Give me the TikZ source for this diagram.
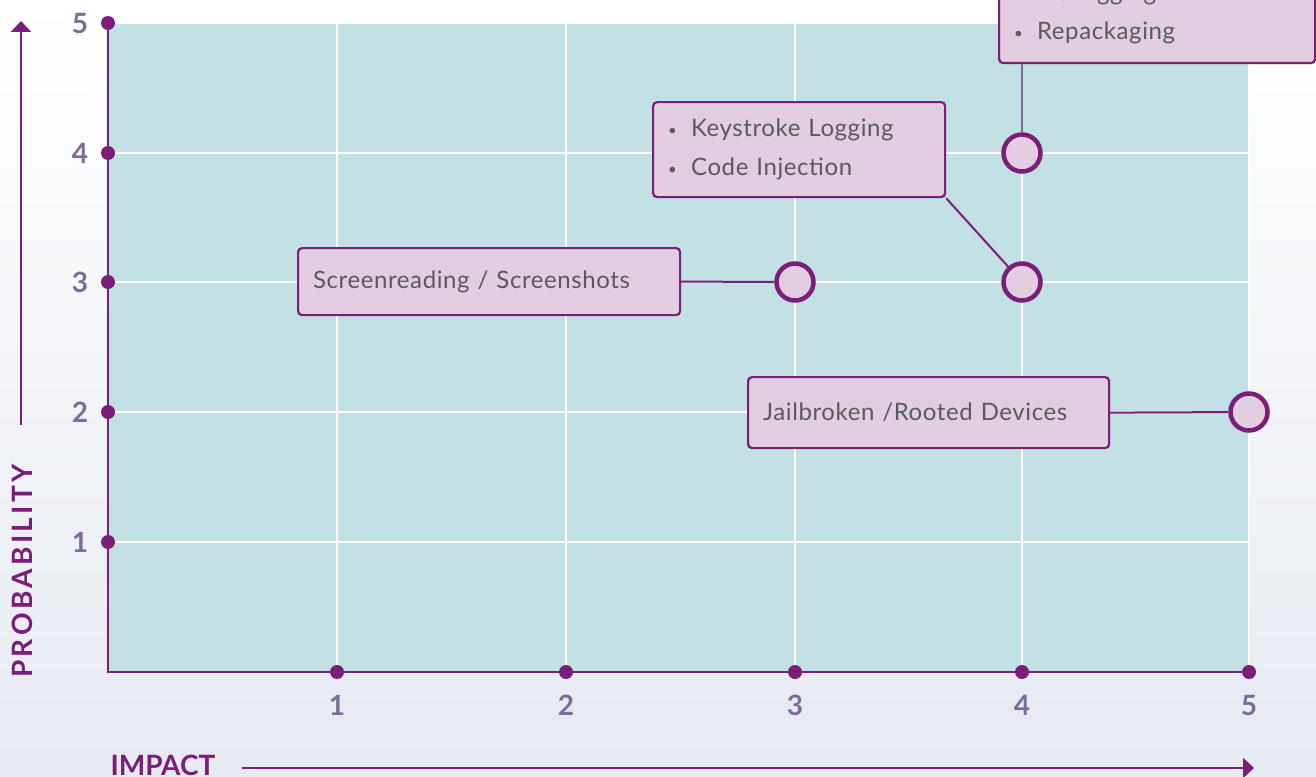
\documentclass[tikz,border=0pt]{standalone}
\usepackage{fontspec}
\setmainfont{Lato}
\usetikzlibrary{arrows.meta}
\definecolor{plum}{RGB}{122,30,122}
\definecolor{boxfill}{RGB}{227,205,225}
\definecolor{plotbg}{RGB}{195,224,228}
\definecolor{ticklab}{RGB}{124,108,156}
\definecolor{txt}{RGB}{90,90,90}
\definecolor{bgbot}{RGB}{230,234,241}
\definecolor{stem}{RGB}{126,106,152}
\newcommand\bul{\makebox[23pt][l]{\raisebox{1pt}{\fontsize{15}{15}\selectfont\textbullet}}}
\tikzset{
 gridline/.style={white,line width=2.5pt},
 axisline/.style={plum,line width=2.5pt},
 tickdot/.style={circle,fill=plum,inner sep=0pt,minimum size=14pt},
 ticknum/.style={text=ticklab,font=\fontsize{28}{30}\selectfont\bfseries},
 riskbox/.style={draw=plum,fill=boxfill,line width=2.2pt,rounded corners=4pt,text=txt,font=\fontsize{24}{39}\selectfont\addfontfeature{LetterSpace=2.5},align=left,inner xsep=15pt,inner ysep=0pt,anchor=north west},
 marker/.style={circle,draw=plum,fill=boxfill,line width=4.5pt,minimum size=37pt,inner sep=0pt},
 link/.style={plum,line width=2pt},
 axislabel/.style={text=plum,font=\fontsize{28}{30}\selectfont\bfseries},
 bigarrow/.style={plum,line width=2.5pt,-{Triangle[width=20pt,length=11pt]}},
}
\begin{document}
\begin{tikzpicture}[x=1pt,y=-1pt]
\useasboundingbox (0,0) rectangle (1316,776);
\clip (0,0) rectangle (1316,776);
\shade[top color=white,bottom color=bgbot] (0,0) rectangle (1316,776);
% plot area
\fill[plotbg] (108,23) rectangle (1249,672);
\foreach \x in {337,566,795,1022,1249} \draw[gridline] (\x,23) -- (\x,672);
\foreach \y in {23,153,282,412,542} \draw[gridline] (108,\y) -- (1249,\y);
\draw[axisline] (108,23) -- (108,672) -- (1249,672);
% ticks
\foreach \y/\n in {23/5,153/4,282/3,412/2,542/1} {
  \node[tickdot] (ty\n) at (108,\y) {};
  \node[ticknum] (ly\n) at (80,\y) {\n};
}
\foreach \x/\n in {337/1,566/2,795/3,1022/4,1249/5} {
  \node[tickdot] (tx\n) at (\x,672) {};
  \node[ticknum] (lx\n) at (\x,705) {\n};
}
% markers
\node[marker] (c33) at (795,282) {};
\node[marker] (c43) at (1022,282) {};
\node[marker] (c44) at (1022,153) {};
\node[marker] (c52) at (1249,412) {};
% boxes
\node[riskbox,text width=352pt,minimum height=67pt] (sr) at (297,247) {Screenreading / Screenshots};
\node[riskbox,text width=262pt,minimum height=95pt] (ks) at (652,101) {\bul Keystroke Logging\\\bul Code Injection};
\node[riskbox,text width=286pt,minimum height=99pt] (top) at (998,-37) {\bul Debugging\\\bul Repackaging};
\node[riskbox,text width=331pt,minimum height=71pt] (jb) at (747,376) {Jailbroken /Rooted Devices};
% connectors
\draw[link] (sr.east) -- (c33);
\draw[link] (ks.south east) -- (c43);
\draw[link,stem] (top.south -| c44) -- (c44);
\draw[link] (jb.east) -- (c52);
% axis titles
\coordinate (pa0) at (21,425);
\coordinate (pa1) at (21,21);
\draw[bigarrow] (pa0) -- (pa1);
\node[axislabel,rotate=90] (plab) at (22,571) {\addfontfeature{LetterSpace=12}PROBABILITY};
\coordinate (ia0) at (242,768);
\coordinate (ia1) at (1254,768);
\draw[bigarrow] (ia0) -- (ia1);
\node[axislabel,anchor=base west] (ilab) at (107,775) {IMPACT};
\end{tikzpicture}
\end{document}
